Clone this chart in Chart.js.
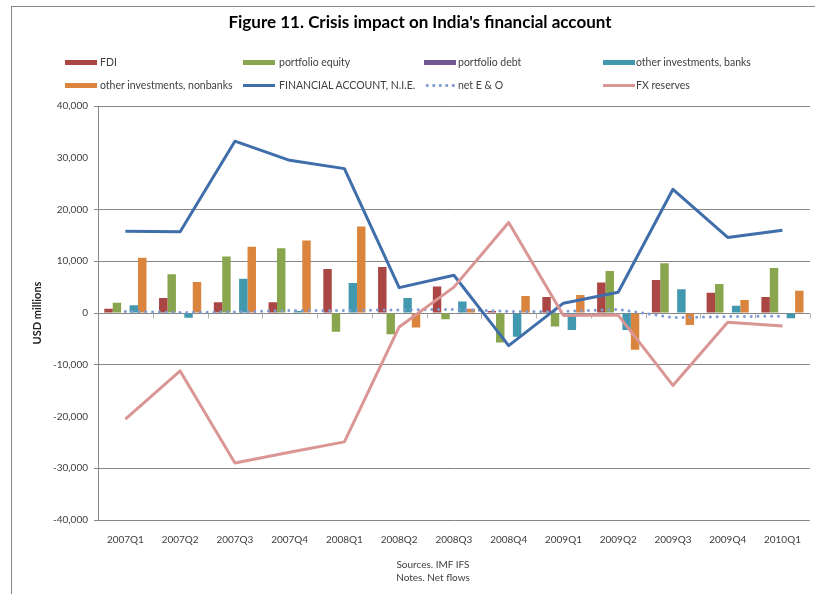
<!DOCTYPE html>
<html><head><meta charset="utf-8">
<script src="https://cdn.jsdelivr.net/npm/chart.js@4.4.0/dist/chart.umd.min.js"></script>
<style>
html,body{margin:0;padding:0;background:#fff;overflow:hidden;}
#wrap{position:relative;width:815px;height:594px;overflow:hidden;background:#fff;}
#frame{position:absolute;left:11px;top:6px;width:900px;height:700px;border:1px solid #868686;box-sizing:border-box;pointer-events:none;}
canvas{position:absolute;left:0;top:0;}
.sw{position:absolute;width:32px;}
.lt{position:absolute;font:10.5px Lato, "Liberation Sans", sans-serif;color:#404040;white-space:nowrap;line-height:14px;}
#notes{position:absolute;left:333px;top:558px;width:200px;text-align:center;font:10px Lato, "Liberation Sans", sans-serif;color:#404040;line-height:13px;}
</style>
</head><body>
<div id="wrap">
<canvas id="c" width="815" height="594"></canvas>
<div id="frame"></div>
<div id="legend"></div>
<div id="notes">Sources. IMF IFS<br>Notes. Net flows</div>
</div>
<script>
const categories = ['2007Q1','2007Q2','2007Q3','2007Q4','2008Q1','2008Q2','2008Q3','2008Q4','2009Q1','2009Q2','2009Q3','2009Q4','2010Q1'];
const fdi = [800, 2900, 2100, 2100, 8500, 8900, 5100, 400, 3100, 5900, 6400, 3900, 3100];
const portfolioEquity = [2000, 7500, 10900, 12500, -3600, -4100, -1200, -5700, -2600, 8100, 9600, 5600, 8700];
const portfolioDebt = [0, 0, 0, 0, 0, 0, 0, 0, 0, 0, 0, 0, 0];
const otherBanks = [1500, -900, 6600, 400, 5800, 2900, 2200, -4600, -3300, -3300, 4600, 1400, -1000];
const otherNonbanks = [10700, 6000, 12800, 14000, 16700, -2800, 800, 3300, 3500, -7100, -2300, 2500, 4300];
const financialAccount = [15800, 15700, 33200, 29500, 27900, 4900, 7300, -6300, 1900, 4000, 23900, 14600, 16000];
const netEO = [300, 100, 200, 500, 500, 600, 700, 300, 300, 700, -900, -700, -600];
const fxReserves = [-20500, -11200, -29000, -26900, -24900, -2700, 5000, 17500, -500, -400, -14000, -1800, -2500];
const yTicks = [-40000, -30000, -20000, -10000, 0, 10000, 20000, 30000, 40000];

const FONT = 'Lato, "Liberation Sans", sans-serif';
const GRID = '#868686';

function bar(label, data, color){
  return {type:'bar', label, data, backgroundColor:color, borderWidth:0, order:3,
          categoryPercentage:0.77, barPercentage:1.0, _kind:'bar'};
}
function line(label, data, color, width, dash, order, kind){
  return {type:'line', label, data, borderColor:color, backgroundColor:color, borderWidth:width,
          borderDash:dash, borderCapStyle: dash.length ? 'round' : 'butt', borderJoinStyle:'round',
          pointRadius:0, tension:0, fill:false, order, _kind:kind};
}

const datasets = [
  bar('FDI', fdi, '#AA4643'),
  bar('portfolio equity', portfolioEquity, '#89A54E'),
  bar('portfolio debt', portfolioDebt, '#71588F'),
  bar('other investments, banks', otherBanks, '#4198AF'),
  bar('other investments, nonbanks', otherNonbanks, '#DB843D'),
  line('FINANCIAL ACCOUNT, N.I.E.', financialAccount, '#3F6EAA', 3, [], 2, 'line'),
  line('net E & O', netEO, '#7F9CD2', 3, [0.01, 6.8], 2, 'dots'),
  line('FX reserves', fxReserves, '#D99694', 3, [], 1, 'line')
];

const axisTicks = {
  id:'axisTicks',
  beforeDatasetsDraw(chart){
    const x = chart.scales.x, y = chart.scales.y, ctx = chart.ctx;
    const y0 = Math.round(y.getPixelForValue(0)) + 0.5;
    const half = (x.getPixelForValue(1) - x.getPixelForValue(0)) / 2;
    ctx.save();
    ctx.strokeStyle = '#b0b0b0'; ctx.lineWidth = 1; ctx.beginPath();
    for (let i = 1; i <= categories.length; i++) {
      const px = Math.round(x.getPixelForValue(i) - half) + 0.5;
      ctx.moveTo(px, y0); ctx.lineTo(px, y0 + 5);
    }
    ctx.stroke(); ctx.restore();
  }
};

const hiddenGrid = [30000, -20000];

const chart = new Chart(document.getElementById('c'), {
  data: {labels: categories, datasets},
  options: {
    responsive:false, animation:false, devicePixelRatio:1,
    layout:{padding:{left:26, right:1, top:0, bottom:0}},
    plugins:{
      legend:{display:false},
      tooltip:{enabled:false},
      title:{display:true, text:"Figure 11. Crisis impact on India's financial account",
        color:'#000', font:{family:FONT, size:17, weight:'bold'}, padding:{top:12, bottom:73.6}}
    },
    scales:{
      x:{
        offset:true,
        grid:{display:false, drawTicks:false},
        border:{display:false},
        ticks:{color:'#404040', font:{family:FONT, size:10}, padding:14, maxRotation:0, autoSkip:false},
        afterFit(s){ s.height = 74; }
      },
      y:{
        min:-40000, max:40000,
        afterBuildTicks(s){ s.ticks = yTicks.map(v => ({value:v})); },
        grid:{color:(c) => (c.tick && hiddenGrid.includes(c.tick.value)) ? 'rgba(0,0,0,0)' : GRID,
              tickLength:4, drawTicks:true, lineWidth:1},
        border:{display:true, color:GRID},
        ticks:{color:'#404040', font:{family:FONT, size:10}, padding:6,
               callback:(v) => Number(v).toLocaleString('en-US')},
        title:{display:true, text:'USD millions', color:'#222',
               font:{family:FONT, size:11, weight:'bold'}, padding:{top:5, bottom:0}},
        afterFit(s){ s.width = 72; }
      }
    }
  },
  plugins:[axisTicks]
});

// HTML legend built from the chart datasets
(function(){
  const lg = document.getElementById('legend');
  const colSw = [65, 243, 424, 603];
  const colTx = [100, 279, 458, 636];
  const rowY = [62, 85];
  chart.data.datasets.forEach((ds, i) => {
    const col = i % 4, row = Math.floor(i / 4);
    const sw = document.createElement('div');
    sw.className = 'sw';
    sw.style.left = colSw[col] + 'px';
    if (ds._kind === 'bar') {
      sw.style.height = '5px'; sw.style.top = (rowY[row] - 2.5) + 'px';
      sw.style.background = ds.backgroundColor;
    } else if (ds._kind === 'line') {
      sw.style.height = '3px'; sw.style.top = (rowY[row] - 1.5) + 'px';
      sw.style.background = ds.borderColor;
    } else {
      sw.style.height = '3px'; sw.style.top = (rowY[row] - 1.5) + 'px';
      sw.style.background = 'radial-gradient(circle, ' + ds.borderColor + ' 1.3px, rgba(255,255,255,0) 1.7px) 0 0 / 6.5px 3px repeat-x';
    }
    lg.appendChild(sw);
    const t = document.createElement('div');
    t.className = 'lt';
    t.style.left = colTx[col] + 'px';
    t.style.top = (rowY[row] - 7) + 'px';
    t.textContent = ds.label;
    lg.appendChild(t);
  });
})();
</script>
</body></html>
